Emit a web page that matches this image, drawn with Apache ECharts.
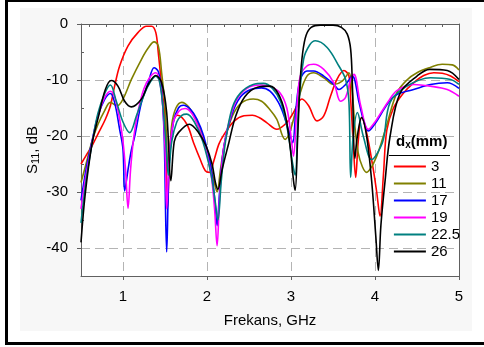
<!DOCTYPE html>
<html>
<head>
<meta charset="utf-8">
<script src="https://cdn.jsdelivr.net/npm/echarts@6/dist/echarts.min.js"></script>
<style>
html,body{margin:0;padding:0;background:#fff;}
#wrap{position:relative;width:484px;height:347px;overflow:hidden;}
#panel{position:absolute;left:20px;top:8px;width:452px;height:323px;background:#f7f7f7;}
#frame{position:absolute;left:5px;top:-1px;width:490px;height:340px;border:3px solid #000;}
#chart{position:absolute;left:0;top:0;width:484px;height:347px;}
</style>
</head>
<body>
<div id="wrap"><div id="panel"></div><div id="frame"></div><div id="chart"></div></div>
<script>
// ---- data (frequency in GHz, S11 in dB) ----
const seriesNames = ['3', '11', '17', '19', '22.5', '26'];
const seriesColors = ['#ff0000', '#808000', '#0000ff', '#ff00ff', '#008080', '#000000'];

const f3 = [0.5, 0.56, 0.63, 0.71, 0.79, 0.85, 0.9, 0.96, 1.06, 1.18, 1.28, 1.34, 1.39, 1.42, 1.46, 1.5, 1.53, 1.56, 1.6, 1.65, 1.76, 1.84, 1.92, 1.98, 2.03, 2.08, 2.14, 2.2, 2.32, 2.44, 2.54, 2.62, 2.71, 2.83, 2.95, 3.03, 3.13, 3.21, 3.31, 3.39, 3.47, 3.55, 3.63, 3.69, 3.71, 3.74, 3.77, 3.8, 3.84, 3.9, 3.98, 4.02, 4.06, 4.1, 4.14, 4.22, 4.34, 4.46, 4.58, 4.7, 4.8, 4.9, 5.0];
const s3 = [-25, -23.5, -21.8, -19.4, -17, -14.6, -11.1, -7.5, -3.9, -1.5, -0.4, -0.4, -1.5, -5.1, -11, -17, -33, -22, -17.2, -16.3, -17.9, -21.2, -24.2, -26.2, -26.5, -24.5, -21.5, -19.8, -17.4, -16.4, -16.3, -16.7, -17.6, -18.8, -17.6, -15.8, -13.4, -14.6, -17.3, -16.4, -12.9, -9.8, -8.3, -9.3, -13.4, -21, -27.4, -21, -16.7, -19.4, -26, -30, -34.3, -27, -19, -15, -12.3, -10.5, -9.2, -8.7, -8.8, -9.3, -10.3];

const f11 = [0.5, 0.56, 0.63, 0.7, 0.78, 0.85, 0.93, 1.0, 1.1, 1.22, 1.3, 1.37, 1.42, 1.46, 1.5, 1.54, 1.58, 1.63, 1.7, 1.78, 1.87, 1.96, 2.04, 2.09, 2.12, 2.16, 2.22, 2.3, 2.4, 2.55, 2.65, 2.75, 2.83, 2.93, 2.98, 3.03, 3.11, 3.19, 3.27, 3.39, 3.51, 3.61, 3.69, 3.73, 3.76, 3.8, 3.85, 3.9, 3.96, 4.02, 4.08, 4.14, 4.26, 4.38, 4.5, 4.65, 4.8, 4.92, 5.0];
const s11 = [-28.3, -25, -21, -18, -15.5, -14, -14.6, -13.4, -9.9, -6.3, -4.3, -3.2, -3.9, -8.7, -14.6, -26, -18, -15, -14, -14.8, -17, -20.5, -25, -28.5, -30, -26, -20.5, -16.5, -14.2, -13.4, -13.8, -15.3, -17, -20.6, -19.5, -17, -12.3, -9.3, -8.7, -9.6, -10.8, -10.2, -8.7, -12.3, -18.2, -23, -25.5, -26.5, -25.5, -23.6, -21, -18, -12.3, -10, -8.7, -7.8, -7.2, -7.3, -8.2];

const f17 = [0.5, 0.56, 0.63, 0.7, 0.78, 0.85, 0.9, 0.96, 1.0, 1.02, 1.06, 1.1, 1.14, 1.22, 1.3, 1.37, 1.42, 1.46, 1.49, 1.52, 1.55, 1.6, 1.66, 1.72, 1.8, 1.88, 1.96, 2.04, 2.09, 2.12, 2.15, 2.2, 2.3, 2.4, 2.52, 2.65, 2.75, 2.85, 2.92, 2.98, 3.02, 3.06, 3.11, 3.19, 3.27, 3.39, 3.51, 3.57, 3.65, 3.73, 3.81, 3.86, 3.92, 4.0, 4.06, 4.16, 4.26, 4.46, 4.66, 4.86, 5.0];
const s17 = [-31.5, -26, -21, -16.5, -13.5, -12.4, -14, -18.8, -22.4, -29.8, -26, -22.5, -20, -14, -10.5, -7.8, -8.5, -12, -20, -40.7, -25, -17.5, -15, -14.5, -15.2, -17, -20, -25, -31, -36, -30, -22, -16, -13, -11.7, -11.4, -12, -14, -16.5, -19.5, -21.2, -15, -9.9, -8.4, -8.4, -9.3, -10.8, -11.7, -10.8, -9.3, -14, -17, -19.1, -17.8, -16.4, -14, -12.6, -11.7, -10.8, -10.5, -11.5];

const f19 = [0.5, 0.56, 0.63, 0.7, 0.78, 0.85, 0.9, 0.96, 1.0, 1.03, 1.06, 1.09, 1.13, 1.18, 1.25, 1.32, 1.39, 1.43, 1.47, 1.5, 1.52, 1.55, 1.6, 1.67, 1.74, 1.82, 1.9, 1.98, 2.05, 2.09, 2.12, 2.15, 2.2, 2.3, 2.4, 2.55, 2.65, 2.75, 2.87, 2.95, 3.0, 3.03, 3.07, 3.11, 3.19, 3.27, 3.39, 3.51, 3.59, 3.65, 3.71, 3.75, 3.83, 3.92, 4.0, 4.06, 4.16, 4.26, 4.46, 4.66, 4.86, 5.0];
const s19 = [-33, -27, -21.3, -16.5, -13.2, -12, -13, -17, -21, -26, -32.9, -26, -20, -15.5, -11.5, -9.5, -8.7, -9.8, -14, -22, -33, -24, -17.5, -15.5, -15.1, -16, -18.5, -22, -27, -33, -39.6, -31, -22, -15.5, -12.5, -11, -10.9, -11.2, -12.3, -15, -20, -23.6, -15, -9.3, -7.5, -7.2, -8.1, -10.5, -13.8, -13.1, -9.9, -9.0, -14.6, -18.8, -17.5, -16.1, -13.8, -11.9, -10.8, -11.1, -11.7, -12.9];

const f22 = [0.5, 0.56, 0.63, 0.7, 0.78, 0.85, 0.92, 1.0, 1.08, 1.16, 1.26, 1.32, 1.39, 1.43, 1.47, 1.51, 1.54, 1.58, 1.64, 1.7, 1.76, 1.85, 1.95, 2.05, 2.1, 2.13, 2.17, 2.22, 2.3, 2.4, 2.55, 2.67, 2.78, 2.88, 2.96, 3.02, 3.05, 3.09, 3.15, 3.22, 3.29, 3.43, 3.57, 3.65, 3.69, 3.71, 3.74, 3.79, 3.86, 3.96, 4.03, 4.1, 4.18, 4.38, 4.66, 4.9, 5.0];
const s22 = [-35.5, -28, -21.5, -16, -12.5, -10.9, -13.8, -17.5, -19.4, -16.4, -12.3, -10.5, -9.3, -10, -14, -21, -27, -21, -17.5, -16.3, -16.1, -17.5, -21, -27, -32, -35, -28, -21, -15, -12.3, -10.8, -10.6, -11.5, -14, -19, -25, -27, -15, -6.3, -3.8, -3.0, -4.2, -7.5, -9.9, -14, -27.4, -20, -15.8, -20, -24.2, -23, -20.6, -14, -11.1, -9.6, -9.9, -10.8];

const f26 = [0.5, 0.55, 0.63, 0.71, 0.79, 0.86, 0.94, 1.02, 1.1, 1.22, 1.3, 1.39, 1.46, 1.52, 1.57, 1.61, 1.66, 1.79, 1.9, 1.99, 2.06, 2.1, 2.13, 2.18, 2.26, 2.34, 2.45, 2.6, 2.75, 2.85, 2.93, 2.99, 3.03, 3.05, 3.08, 3.11, 3.14, 3.18, 3.24, 3.35, 3.5, 3.6, 3.67, 3.71, 3.73, 3.76, 3.79, 3.84, 3.9, 3.96, 4.01, 4.04, 4.07, 4.12, 4.18, 4.3, 4.5, 4.65, 4.86, 5.0];
const s26 = [-39, -30.4, -21.5, -16.4, -11.7, -10.1, -11.1, -13.8, -14.8, -13.4, -10.8, -9.2, -10.5, -15.8, -28, -21, -19.4, -17.9, -19.4, -21.8, -25, -28.3, -29.5, -26, -21.2, -16.5, -13, -11.3, -11.1, -12.5, -16, -22, -28, -29.7, -20, -10, -5, -2, -0.6, -0.2, -0.2, -0.6, -1.8, -4.5, -10.5, -24, -20, -16.7, -20, -28, -38, -44, -36, -28, -20, -12.3, -9.3, -8.1, -8.3, -9.9];

const xTickValues = [1, 2, 3, 4, 5];
const xMinorTicks = [0.6, 0.8, 1.0, 1.2, 1.4, 1.6, 1.8, 2.0, 2.2, 2.4, 2.6, 2.8, 3.0, 3.2, 3.4, 3.6, 3.8, 4.0, 4.2, 4.4, 4.6, 4.8];
const yTickValues = [0, -10, -20, -30, -40];
const yMinorTicks = [-5, -15, -25, -35];

const freqs = [f3, f11, f17, f19, f22, f26];
const vals = [s3, s11, s17, s19, s22, s26];

const FONT = '"Liberation Sans", Arial, sans-serif';
const chart = echarts.init(document.getElementById('chart'), null, {renderer: 'canvas'});

const series = seriesNames.map((name, i) => ({
  name: name,
  type: 'line',
  xAxisIndex: 0,
  yAxisIndex: 0,
  data: freqs[i].map((f, k) => [f, vals[i][k]]),
  showSymbol: false,
  symbol: 'none',
  smooth: 0.35,
  lineStyle: {color: seriesColors[i], width: 1.6},
  itemStyle: {color: seriesColors[i]},
  animation: false
}));

const gridLine = {show: true, lineStyle: {color: '#b4b4b4', type: [9, 5], width: 1}};

chart.setOption({
  animation: false,
  grid: {left: 81, top: 24, width: 378, height: 252, show: true, backgroundColor: '#ffffff', borderWidth: 0},
  xAxis: [
    {
      type: 'value', position: 'bottom', min: 0.5, max: 5,
      axisLine: {show: true, onZero: false, lineStyle: {color: '#606060', width: 1}},
      axisTick: {show: true, inside: false, length: 4, customValues: xTickValues, lineStyle: {color: '#606060'}},
      axisLabel: {customValues: xTickValues, margin: 13, color: '#000', fontSize: 15, fontFamily: FONT, showMinLabel: true, showMaxLabel: true},
      splitLine: gridLine,
      name: 'Frekans, GHz', nameLocation: 'middle', nameGap: 37,
      nameTextStyle: {color: '#000', fontSize: 15, fontFamily: FONT}
    },
    {
      type: 'value', position: 'top', min: 0.5, max: 5,
      axisLine: {show: true, onZero: false, lineStyle: {color: '#606060', width: 1}},
      axisTick: {show: true, inside: true, length: 3, customValues: xMinorTicks, lineStyle: {color: '#606060'}},
      axisLabel: {show: false},
      splitLine: {show: false}
    }
  ],
  yAxis: [
    {
      type: 'value', position: 'left', min: -45, max: 0,
      axisLine: {show: true, onZero: false, lineStyle: {color: '#606060', width: 1}},
      axisTick: {show: true, inside: false, length: 4, customValues: yTickValues, lineStyle: {color: '#606060'}},
      axisLabel: {customValues: yTickValues, margin: 13, color: '#000', fontSize: 15, fontFamily: FONT},
      splitLine: gridLine,
      name: '{s|S}{sub|11}{s|, dB}', nameLocation: 'middle', nameGap: 40, nameRotate: 90,
      nameMoveOverlap: false,
      nameTextStyle: {
        color: '#000', fontSize: 15, fontFamily: FONT,
        rich: {
          s: {fontSize: 15, fontFamily: FONT, color: '#000'},
          sub: {fontSize: 11, fontFamily: FONT, color: '#000', verticalAlign: 'bottom', padding: [6, 0, 0, 0]}
        }
      }
    },
    {
      type: 'value', position: 'right', min: -45, max: 0,
      axisLine: {show: true, onZero: false, lineStyle: {color: '#606060', width: 1}},
      axisTick: {show: false},
      axisLabel: {show: false},
      splitLine: {show: false}
    },
    {
      type: 'value', position: 'left', min: -45, max: 0,
      axisLine: {show: false},
      axisTick: {show: true, inside: true, length: 3, customValues: yMinorTicks, lineStyle: {color: '#606060'}},
      axisLabel: {show: false},
      splitLine: {show: false}
    }
  ],
  legend: {
    orient: 'vertical', left: 393, top: 159,
    itemWidth: 32, itemHeight: 14, itemGap: 2, padding: 0,
    data: seriesNames,
    itemStyle: {opacity: 0},
    lineStyle: {width: 1.8},
    textStyle: {color: '#000', fontSize: 15, fontFamily: FONT},
    selectedMode: false
  },
  graphic: [
    {
      type: 'text', left: 396, top: 134,
      style: {
        text: '{b|d}{bs|x}{b|(mm)}',
        rich: {
          b: {fontSize: 15, fontWeight: 'bold', fontFamily: FONT, fill: '#000'},
          bs: {fontSize: 10, fontWeight: 'bold', fontFamily: FONT, fill: '#000', verticalAlign: 'bottom', padding: [8, 0, 0, 0]}
        }
      }
    },
    {
      type: 'line', shape: {x1: 389, y1: 155.5, x2: 450, y2: 155.5},
      style: {stroke: '#000', lineWidth: 1}
    }
  ],
  series: series
});
</script>
</body>
</html>
